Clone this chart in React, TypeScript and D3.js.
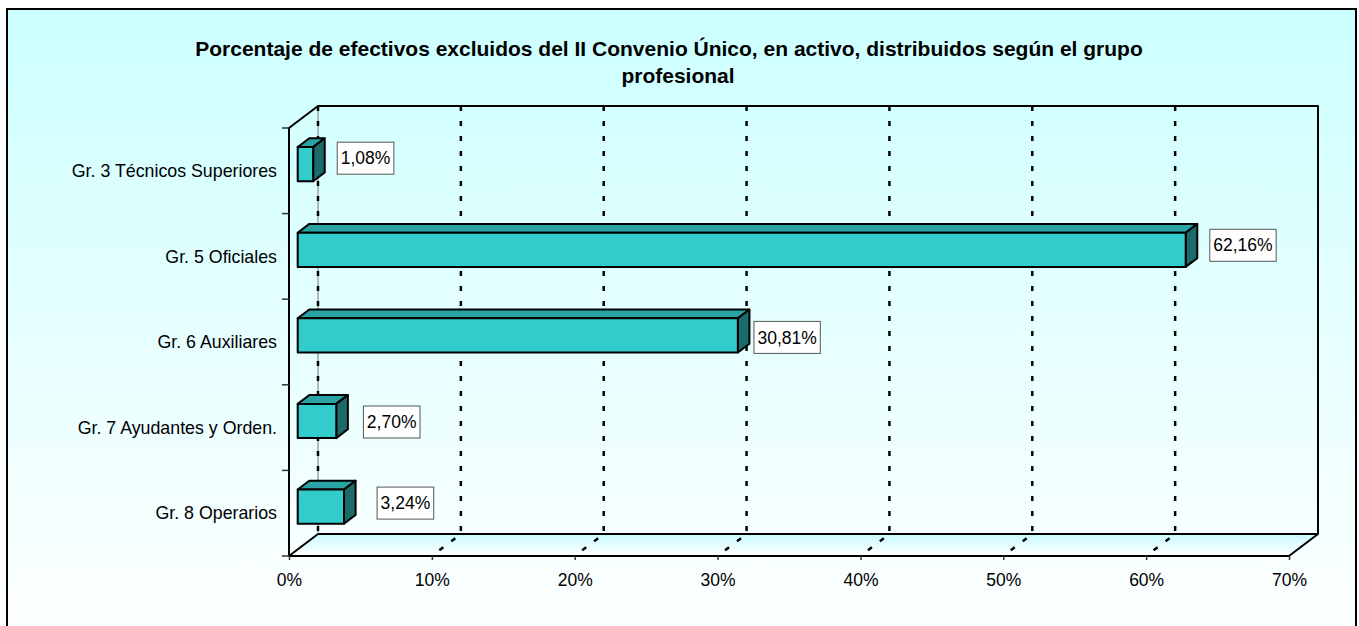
import React, { useRef, useEffect } from "react";
import * as d3 from "d3";

// data
const categories = [
  "Gr. 3 Técnicos Superiores",
  "Gr. 5 Oficiales",
  "Gr. 6 Auxiliares",
  "Gr. 7 Ayudantes y Orden.",
  "Gr. 8 Operarios",
];
const values = [1.08, 62.16, 30.81, 2.7, 3.24];
const xTicks = [0, 10, 20, 30, 40, 50, 60, 70];
const titleLines = [
  "Porcentaje de efectivos excluidos del II Convenio Único, en activo, distribuidos según el grupo",
  "profesional",
];

// the value labels were hand placed in the original: gap after the bar, vertical nudge
const labelGap = [12, 12, 4, 15, 21];
const labelNudge = [-6, -4.5, 2, 1, -3.5];

const W = 1359,
  H = 626;
const font = "'Liberation Sans', Arial, Helvetica, sans-serif";

const esLocale = d3.formatLocale({
  decimal: ",",
  thousands: ".",
  grouping: [3],
  currency: ["", " €"],
});
const fmtValue = (v: number) => esLocale.format(".2f")(v) + "%";

function draw(root: SVGSVGElement) {
  const svg = d3.select(root);
  svg.selectAll("*").remove();

  // plot geometry (front plane) and depth offset of the 3d box
  const left = 289,
    right = 1289,
    top = 128,
    bottom = 556;
  const DX = 29,
    DY = -22;

  const x = d3.scaleLinear().domain([0, 70]).range([left, right]);
  const y = d3
    .scaleBand<string>()
    .domain(categories)
    .range([top, bottom])
    .paddingInner(0.6)
    .paddingOuter(0.3);

  const defs = svg.append("defs");
  const bg = defs
    .append("linearGradient")
    .attr("id", "bg")
    .attr("x1", 0)
    .attr("y1", 0)
    .attr("x2", 0)
    .attr("y2", 1);
  bg.append("stop").attr("offset", "0%").attr("stop-color", "#CCFFFF");
  bg.append("stop").attr("offset", "100%").attr("stop-color", "#FFFFFF");
  const fl = defs
    .append("linearGradient")
    .attr("id", "floor")
    .attr("x1", 0)
    .attr("y1", 0)
    .attr("x2", 0)
    .attr("y2", 1);
  fl.append("stop").attr("offset", "0%").attr("stop-color", "#C8FAFF");
  fl.append("stop").attr("offset", "100%").attr("stop-color", "#FFFFFF");

  // chart area
  svg
    .append("rect")
    .attr("x", 7)
    .attr("y", 9)
    .attr("width", 1349)
    .attr("height", 640)
    .attr("fill", "url(#bg)")
    .attr("stroke", "#000")
    .attr("stroke-width", 2);

  const line = d3.line();

  // floor
  svg
    .append("path")
    .attr(
      "d",
      line([
        [left, bottom],
        [left + DX, bottom + DY],
        [right + DX, bottom + DY],
        [right, bottom],
      ]) + "Z"
    )
    .attr("fill", "url(#floor)")
    .attr("stroke", "#000")
    .attr("stroke-width", 2)
    .attr("stroke-linejoin", "round");

  // gridlines on the back wall and the floor
  const grid = svg.append("g");
  grid
    .append("line")
    .attr("x1", x(0) + DX)
    .attr("x2", x(0) + DX)
    .attr("y1", top + DY)
    .attr("y2", bottom + DY)
    .attr("stroke", "#777")
    .attr("stroke-width", 1);
  grid
    .selectAll("path.grid")
    .data(xTicks.filter((v) => v > 0 && v < 70))
    .enter()
    .append("path")
    .attr("class", "grid")
    .attr(
      "d",
      (v) =>
        `M${x(v) + DX},${top + DY}V${bottom + DY}L${x(v)},${bottom}`
    )
    .attr("fill", "none")
    .attr("stroke", "#000")
    .attr("stroke-width", 2.5)
    .attr("stroke-dasharray", "5,10");
  grid
    .append("line")
    .attr("x1", x(0) + DX)
    .attr("x2", x(0) + DX)
    .attr("y1", top + DY)
    .attr("y2", bottom + DY)
    .attr("stroke", "#000")
    .attr("stroke-width", 2.5)
    .attr("stroke-dasharray", "5,10");

  // walls outline
  svg
    .append("path")
    .attr(
      "d",
      `M${left},${bottom}V${top}L${left + DX},${top + DY}H${right + DX}V${
        bottom + DY
      }`
    )
    .attr("fill", "none")
    .attr("stroke", "#000")
    .attr("stroke-width", 2)
    .attr("stroke-linejoin", "round");

  // left axis ticks at category boundaries
  svg
    .append("g")
    .selectAll("line")
    .data(d3.range(categories.length + 1))
    .enter()
    .append("line")
    .attr("x1", left - 7)
    .attr("x2", left)
    .attr("y1", (i) => top + i * y.step())
    .attr("y2", (i) => top + i * y.step())
    .attr("stroke", "#333")
    .attr("stroke-width", 1.5);

  // category labels
  svg
    .append("g")
    .selectAll("text")
    .data(categories)
    .enter()
    .append("text")
    .attr("x", 277)
    .attr("y", (c) => y(c)! + y.bandwidth() / 2)
    .attr("dy", "0.35em")
    .attr("text-anchor", "end")
    .attr("font-family", font)
    .attr("font-size", 17.8)
    .attr("fill", "#000")
    .text((c) => c);

  // bottom axis
  const ax = svg
    .append("g")
    .attr("transform", `translate(0,${bottom})`)
    .call(
      d3
        .axisBottom(x)
        .tickValues(xTicks)
        .tickSize(4)
        .tickPadding(14)
        .tickFormat((d) => d + "%")
    );
  ax.select(".domain").remove();
  ax.selectAll("line").attr("stroke", "#333").attr("stroke-width", 1.5);
  ax.selectAll("text")
    .attr("font-family", font)
    .attr("font-size", 17.5)
    .attr("fill", "#000");

  // 3d bars
  const f0 = 0.3,
    fd = 0.4;
  const ox = DX * f0,
    oy = DY * f0;
  const ddx = DX * fd,
    ddy = DY * fd;
  const bars = svg
    .append("g")
    .selectAll("g")
    .data(categories.map((c, i) => ({ c, v: values[i], i })))
    .enter()
    .append("g");

  bars.each(function (d) {
    const g = d3.select(this);
    const x0 = x(0) + ox,
      x1 = x(d.v) + ox;
    const yT = y(d.c)! + oy,
      yB = yT + y.bandwidth();
    const st = (s: any) =>
      s
        .attr("stroke", "#000")
        .attr("stroke-width", 2)
        .attr("stroke-linejoin", "round");
    g.append("path")
      .attr(
        "d",
        line([
          [x0, yT],
          [x0 + ddx, yT + ddy],
          [x1 + ddx, yT + ddy],
          [x1, yT],
        ]) + "Z"
      )
      .attr("fill", "#29A3A3")
      .call(st);
    g.append("path")
      .attr(
        "d",
        line([
          [x1, yT],
          [x1 + ddx, yT + ddy],
          [x1 + ddx, yB + ddy],
          [x1, yB],
        ]) + "Z"
      )
      .attr("fill", "#1C6B6B")
      .call(st);
    g.append("rect")
      .attr("x", x0)
      .attr("y", yT)
      .attr("width", x1 - x0)
      .attr("height", yB - yT)
      .attr("fill", "#33CCCC")
      .call(st);

    // value label in a white box
    const lx = x1 + ddx + labelGap[d.i];
    const cy = (yT + yB) / 2 + labelNudge[d.i];
    const lg = g.append("g");
    const rect = lg.append("rect");
    const t = lg
      .append("text")
      .attr("x", lx + 4)
      .attr("y", cy)
      .attr("dy", "0.35em")
      .attr("font-family", font)
      .attr("font-size", 17.5)
      .attr("fill", "#000")
      .text(fmtValue(d.v));
    const w = (t.node() as SVGTextElement).getComputedTextLength();
    rect
      .attr("x", lx + 0.5)
      .attr("y", cy - 16)
      .attr("width", w + 7)
      .attr("height", 32)
      .attr("fill", "#fff")
      .attr("stroke", "#555")
      .attr("stroke-width", 1);
  });

  // title
  svg
    .append("g")
    .selectAll("text")
    .data(titleLines)
    .enter()
    .append("text")
    .attr("x", (d, i) => (i === 0 ? 669 : 678))
    .attr("y", (d, i) => 56 + i * 27)
    .attr("text-anchor", "middle")
    .attr("font-family", font)
    .attr("font-size", 21)
    .attr("font-weight", "bold")
    .attr("fill", "#000")
    .text((d) => d);
}

export default function App() {
  const ref = useRef<SVGSVGElement>(null);

  useEffect(() => {
    if (ref.current) draw(ref.current);
  }, []);

  return (
    <svg
      ref={ref}
      width={W}
      height={H}
      style={{ position: "absolute", left: 0, top: 0, display: "block" }}
    />
  );
}
